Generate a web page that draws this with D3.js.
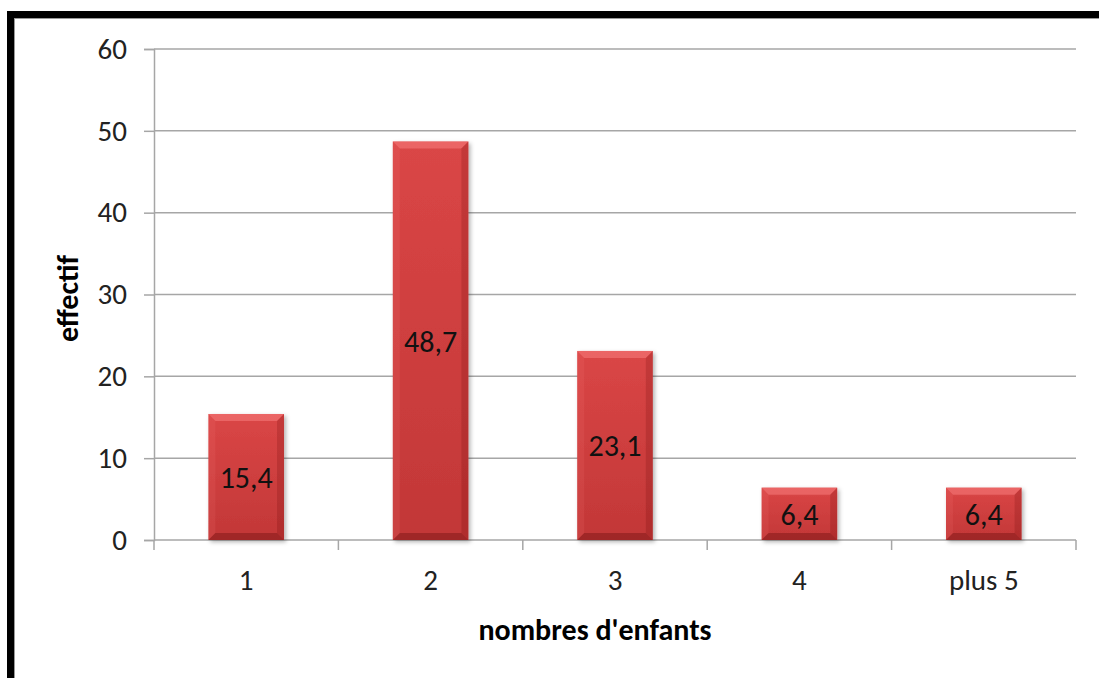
<!DOCTYPE html>
<html>
<head>
<meta charset="utf-8">
<script src="https://cdn.jsdelivr.net/npm/d3@7"></script>
<style>
  body { margin: 0; background: #fff; }
  svg { display: block; font-family: Calibri, Carlito, "Open Sans", sans-serif; }
  .tick text { font-size: 29px; fill: #222; }
  .axis-title { font-size: 30px; font-weight: bold; fill: #000; }
  .val { font-size: 30px; fill: #111; }
</style>
</head>
<body>
<div id="chart"></div>
<script>
// chart data
const categories = ["1", "2", "3", "4", "plus 5"];
const values = [15.4, 48.7, 23.1, 6.4, 6.4];
const yTicks = [0, 10, 20, 30, 40, 50, 60];

const W = 1099, H = 678;
const margin = { top: 49, right: 23, bottom: 138, left: 154 };
const width = W - margin.left - margin.right;
const height = H - margin.top - margin.bottom;

const svg = d3.select("#chart").append("svg")
  .attr("width", W)
  .attr("height", H);

// frame (black border at top / left / right)
svg.append("rect").attr("x", 7).attr("y", 11).attr("width", W - 7).attr("height", 7).attr("fill", "#000");
svg.append("rect").attr("x", 7).attr("y", 11).attr("width", 7).attr("height", H - 11).attr("fill", "#000");
svg.append("line").attr("x1", 14).attr("x2", W).attr("y1", 18.5).attr("y2", 18.5).attr("stroke", "#999");
svg.append("line").attr("x1", 14.5).attr("x2", 14.5).attr("y1", 18).attr("y2", H).attr("stroke", "#999");

const defs = svg.append("defs");
const grad = defs.append("linearGradient").attr("id", "barGrad")
  .attr("x1", 0).attr("x2", 0).attr("y1", 0).attr("y2", 1);
grad.append("stop").attr("offset", "0%").attr("stop-color", "#da4646");
grad.append("stop").attr("offset", "100%").attr("stop-color", "#c23737");
const shadow = defs.append("filter").attr("id", "shadow")
  .attr("x", "-20%").attr("y", "-20%").attr("width", "140%").attr("height", "140%");
shadow.append("feDropShadow").attr("dx", 2).attr("dy", 2).attr("stdDeviation", 2)
  .attr("flood-color", "#000").attr("flood-opacity", 0.3);

const g = svg.append("g").attr("transform", `translate(${margin.left},${margin.top})`);

const x = d3.scaleBand().domain(categories).range([0, width]).paddingInner(0.59).paddingOuter(0.295);
const xBand = d3.scaleBand().domain(categories).range([0, width]);
const y = d3.scaleLinear().domain([0, 60]).range([height, 0]);

// gridlines
g.append("g")
  .selectAll("line")
  .data(yTicks.filter(d => d > 0))
  .enter().append("line")
  .attr("x1", 0).attr("x2", width)
  .attr("y1", d => y(d)).attr("y2", d => y(d))
  .attr("stroke", "#a6a6a6").attr("stroke-width", 1.5);

// y axis
const yAxis = g.append("g").call(d3.axisLeft(y).tickValues(yTicks).tickSize(10).tickPadding(17));
yAxis.attr("font-family", null).attr("font-size", null);
yAxis.select(".domain").attr("stroke", "#a6a6a6").attr("stroke-width", 1.5);
yAxis.selectAll(".tick line").attr("stroke", "#a6a6a6").attr("stroke-width", 1.5);

// x axis: ticks at band boundaries
const xAxisG = g.append("g").attr("transform", `translate(0,${height})`);
xAxisG.append("line").attr("x1", 0).attr("x2", width).attr("y1", 0).attr("y2", 0)
  .attr("stroke", "#a6a6a6").attr("stroke-width", 1.5);
const bounds = categories.map(c => xBand(c)).concat([width]);
xAxisG.selectAll(".btick").data(bounds).enter().append("line")
  .attr("x1", d => d).attr("x2", d => d).attr("y1", 0).attr("y2", 10)
  .attr("stroke", "#a6a6a6").attr("stroke-width", 1.5);
xAxisG.selectAll(".xl").data(categories).enter().append("text")
  .attr("x", d => xBand(d) + xBand.bandwidth() / 2)
  .attr("y", 50)
  .attr("text-anchor", "middle")
  .style("font-size", "29px").style("fill", "#222")
  .text(d => d);

// bars
const data = categories.map((c, i) => ({ c, v: values[i] }));
const bars = g.selectAll(".bar").data(data).enter().append("g").attr("class", "bar");
bars.append("rect")
  .attr("x", d => x(d.c)).attr("y", d => y(d.v))
  .attr("width", x.bandwidth()).attr("height", d => height - y(d.v))
  .attr("fill", "url(#barGrad)")
  .attr("filter", "url(#shadow)");

// bevel edges
const bv = 7;
bars.each(function (d) {
  const x0 = x(d.c), x1 = x0 + x.bandwidth(), y0 = y(d.v), y1 = height;
  const b = d3.select(this);
  const poly = (pts, col, op) => b.append("polygon").attr("points", pts.map(p => p.join(",")).join(" "))
    .attr("fill", col).attr("fill-opacity", op);
  poly([[x0, y0], [x1, y0], [x1 - bv, y0 + bv], [x0 + bv, y0 + bv]], "#ff8a8a", 0.45);
  poly([[x0, y0], [x0 + bv, y0 + bv], [x0 + bv, y1 - bv], [x0, y1]], "#ff8080", 0.12);
  poly([[x1, y0], [x1, y1], [x1 - bv, y1 - bv], [x1 - bv, y0 + bv]], "#600000", 0.18);
  poly([[x0, y1], [x0 + bv, y1 - bv], [x1 - bv, y1 - bv], [x1, y1]], "#500000", 0.3);
});

bars.append("text")
  .attr("class", "val")
  .attr("x", d => x(d.c) + x.bandwidth() / 2)
  .attr("y", d => (y(d.v) + height) / 2)
  .attr("text-anchor", "middle")
  .attr("dy", "0.36em")
  .text(d => String(d.v).replace(".", ","));

// axis titles
svg.append("text").attr("class", "axis-title")
  .attr("text-anchor", "middle")
  .attr("transform", `translate(78,${margin.top + height / 2 + 4}) rotate(-90)`)
  .text("effectif");
svg.append("text").attr("class", "axis-title")
  .attr("text-anchor", "middle")
  .attr("x", 595).attr("y", 640)
  .text("nombres d'enfants");
</script>
</body>
</html>
